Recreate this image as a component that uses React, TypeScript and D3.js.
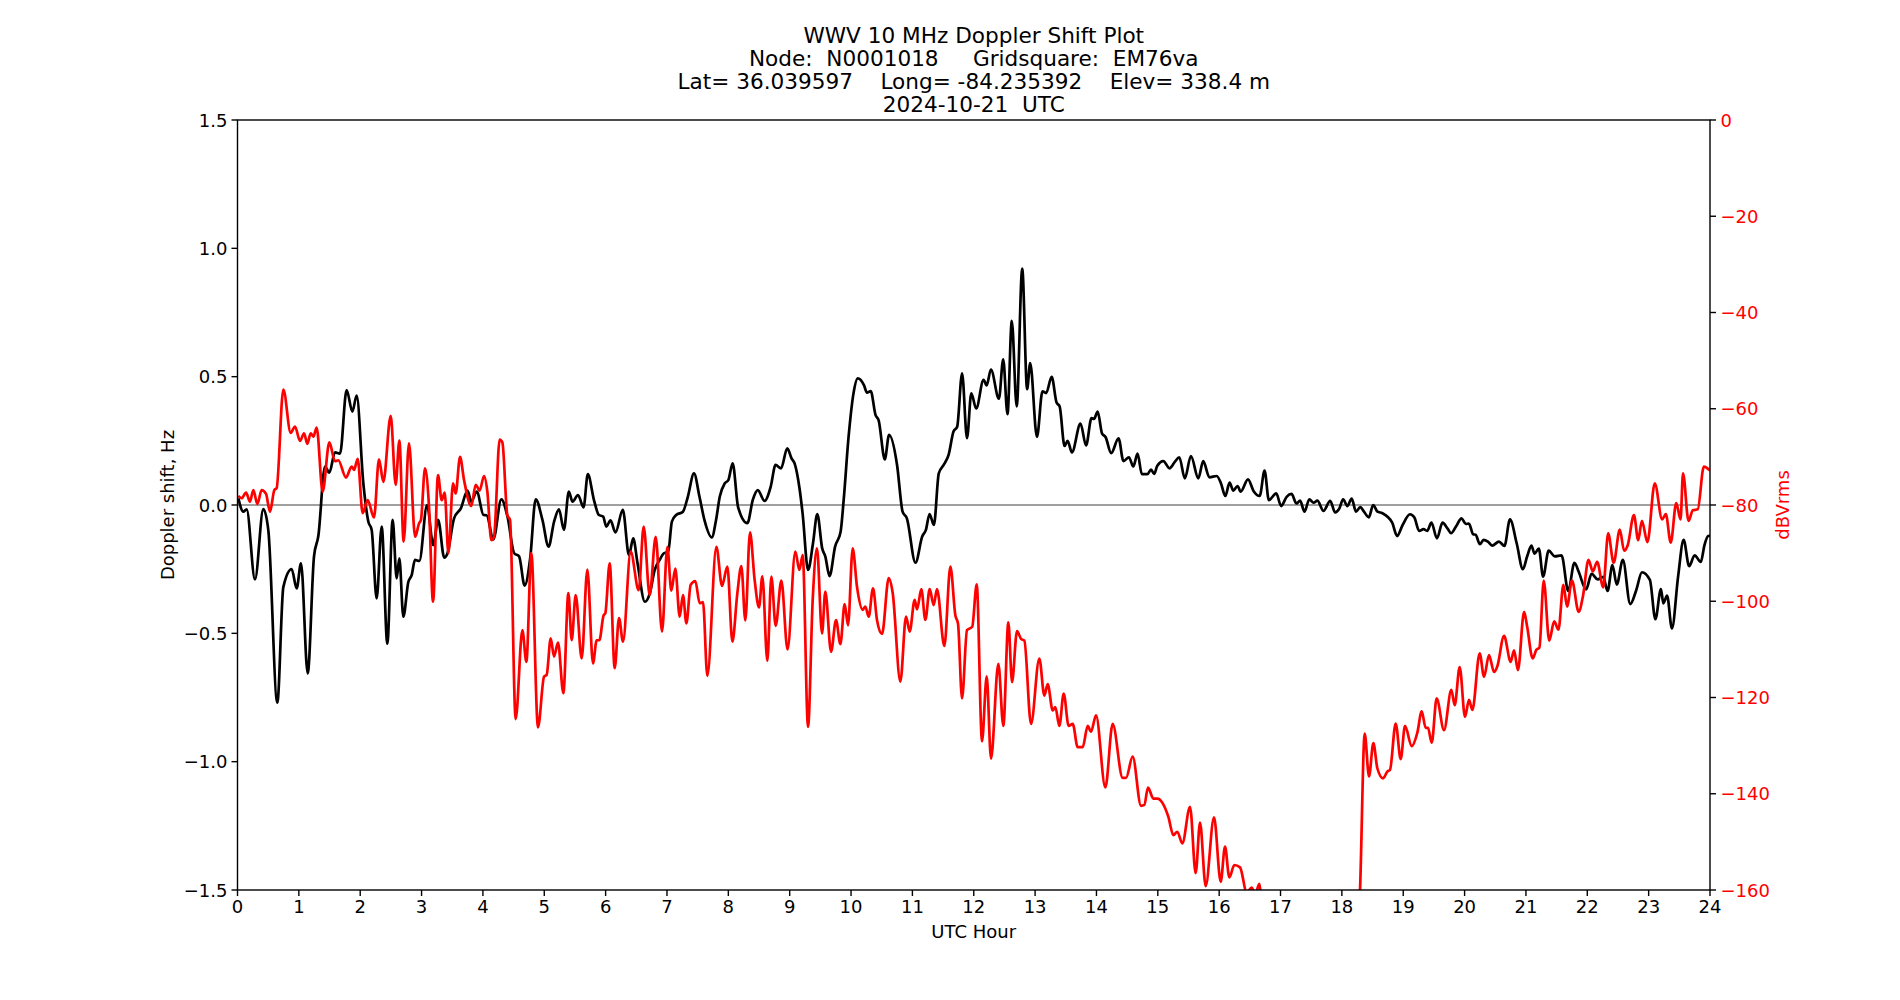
import React from "react";
import * as d3 from "d3";

// Figure text
const titleLines = [
  "WWV 10 MHz Doppler Shift Plot",
  "Node:  N0001018     Gridsquare:  EM76va",
  "Lat= 36.039597    Long= -84.235392    Elev= 338.4 m",
  "2024-10-21  UTC",
];
const xLabel = "UTC Hour";
const yLeftLabel = "Doppler shift, Hz";
const yRightLabel = "dBVrms";

// Tick values
const hourTicks = d3.range(0, 25, 1);
const dopplerTicks = [-1.5, -1.0, -0.5, 0.0, 0.5, 1.0, 1.5];
const powerTicks = [-160, -140, -120, -100, -80, -60, -40, -20, 0];

// Doppler shift (Hz) vs UTC hour
const dopplerHz: [number, number][] = [
  [0.014, 0.026], [0.095, -0.026], [0.149, -0.017], [0.285, -0.29], [0.421, -0.016],
  [0.503, -0.1], [0.649, -0.77], [0.747, -0.32], [0.883, -0.25], [0.964, -0.325],
  [1.035, -0.227], [1.144, -0.656], [1.247, -0.2], [1.318, -0.12], [1.426, 0.15],
  [1.497, 0.126], [1.589, 0.205], [1.671, 0.2], [1.779, 0.448], [1.872, 0.364],
  [1.942, 0.426], [2.051, 0.084], [2.133, -0.065], [2.187, -0.097], [2.268, -0.364],
  [2.35, -0.084], [2.442, -0.54], [2.529, -0.058], [2.594, -0.286], [2.638, -0.208],
  [2.703, -0.435], [2.784, -0.3], [2.839, -0.273], [2.893, -0.214], [2.964, -0.218],
  [3.09, 0.0], [3.19, -0.156], [3.27, -0.058], [3.37, -0.205], [3.42, -0.19],
  [3.53, -0.052], [3.64, -0.013], [3.75, 0.056], [3.81, 0.013], [3.9, 0.052],
  [4.01, -0.039], [4.06, -0.04], [4.17, -0.134], [4.3, 0.022], [4.4, -0.045],
  [4.51, -0.188], [4.59, -0.2], [4.68, -0.314], [4.77, -0.208], [4.86, 0.022],
  [4.97, -0.058], [5.07, -0.162], [5.16, -0.065], [5.24, -0.017], [5.32, -0.097],
  [5.4, 0.052], [5.46, 0.013], [5.55, 0.039], [5.64, -0.009], [5.71, 0.12],
  [5.81, 0.019], [5.89, -0.039], [5.96, -0.045], [6.01, -0.084], [6.08, -0.06],
  [6.16, -0.107], [6.28, -0.019], [6.38, -0.195], [6.45, -0.13], [6.52, -0.227],
  [6.64, -0.377], [6.72, -0.344], [6.8, -0.253], [6.88, -0.214], [6.95, -0.188],
  [7.02, -0.182], [7.08, -0.065], [7.15, -0.039], [7.26, -0.026], [7.34, 0.032],
  [7.44, 0.123], [7.53, 0.032], [7.61, -0.058], [7.73, -0.126], [7.8, -0.058],
  [7.86, 0.032], [7.94, 0.084], [8.0, 0.097], [8.07, 0.162], [8.16, -0.009],
  [8.31, -0.071], [8.4, 0.021], [8.48, 0.058], [8.59, 0.016], [8.69, 0.071],
  [8.77, 0.156], [8.86, 0.143], [8.96, 0.221], [9.03, 0.182], [9.08, 0.162],
  [9.16, 0.065], [9.21, -0.032], [9.3, -0.253], [9.38, -0.149], [9.45, -0.035],
  [9.53, -0.169], [9.58, -0.2], [9.65, -0.277], [9.74, -0.162], [9.83, -0.104],
  [9.88, 0.02], [9.96, 0.266], [10.04, 0.435], [10.11, 0.493], [10.21, 0.467],
  [10.26, 0.438], [10.32, 0.444], [10.4, 0.35], [10.45, 0.33], [10.55, 0.178],
  [10.62, 0.273], [10.75, 0.156], [10.84, -0.026], [10.91, -0.052], [11.05, -0.225],
  [11.16, -0.123], [11.22, -0.097], [11.28, -0.035], [11.35, -0.078], [11.43, 0.123],
  [11.51, 0.156], [11.59, 0.195], [11.67, 0.286], [11.73, 0.305], [11.81, 0.513],
  [11.89, 0.26], [11.96, 0.435], [12.04, 0.376], [12.16, 0.488], [12.21, 0.466],
  [12.28, 0.528], [12.41, 0.414], [12.48, 0.567], [12.55, 0.354], [12.62, 0.717],
  [12.7, 0.384], [12.79, 0.921], [12.87, 0.451], [12.92, 0.553], [13.03, 0.265],
  [13.12, 0.443], [13.18, 0.436], [13.27, 0.499], [13.35, 0.399], [13.4, 0.384],
  [13.48, 0.23], [13.53, 0.25], [13.6, 0.205], [13.74, 0.317], [13.83, 0.232],
  [13.92, 0.339], [13.96, 0.335], [14.02, 0.364], [14.09, 0.279], [14.15, 0.264],
  [14.24, 0.202], [14.36, 0.26], [14.44, 0.171], [14.53, 0.186], [14.6, 0.15],
  [14.67, 0.2], [14.74, 0.12], [14.83, 0.12], [14.89, 0.138], [14.94, 0.121],
  [14.99, 0.152], [15.09, 0.171], [15.19, 0.143], [15.28, 0.169], [15.35, 0.186],
  [15.44, 0.104], [15.54, 0.191], [15.66, 0.104], [15.74, 0.171], [15.84, 0.108],
  [15.96, 0.113], [16.03, 0.084], [16.1, 0.035], [16.17, 0.087], [16.23, 0.056],
  [16.3, 0.074], [16.35, 0.052], [16.47, 0.1], [16.56, 0.055], [16.66, 0.035],
  [16.74, 0.134], [16.81, 0.019], [16.93, 0.045], [17.01, -0.004], [17.1, 0.032],
  [17.18, 0.043], [17.26, 0.006], [17.32, 0.017], [17.39, -0.026], [17.47, 0.022],
  [17.54, 0.009], [17.6, 0.017], [17.7, -0.023], [17.81, 0.016], [17.89, -0.029],
  [17.96, -0.013], [18.02, 0.022], [18.09, -0.004], [18.16, 0.025], [18.23, -0.026],
  [18.3, -0.008], [18.36, -0.026], [18.44, -0.048], [18.51, 0.0], [18.58, -0.026],
  [18.66, -0.032], [18.82, -0.069], [18.9, -0.121], [18.99, -0.078], [19.11, -0.036],
  [19.18, -0.048], [19.26, -0.101], [19.33, -0.094], [19.39, -0.101], [19.46, -0.069],
  [19.55, -0.13], [19.64, -0.069], [19.72, -0.091], [19.78, -0.11], [19.86, -0.084],
  [19.95, -0.052], [20.02, -0.074], [20.07, -0.072], [20.14, -0.114], [20.18, -0.116],
  [20.25, -0.153], [20.31, -0.136], [20.38, -0.143], [20.45, -0.158], [20.56, -0.143],
  [20.65, -0.159], [20.74, -0.056], [20.85, -0.15], [20.95, -0.25], [21.02, -0.2],
  [21.09, -0.158], [21.14, -0.19], [21.21, -0.17], [21.28, -0.279], [21.37, -0.178],
  [21.47, -0.2], [21.58, -0.196], [21.69, -0.335], [21.79, -0.225], [21.86, -0.26],
  [21.98, -0.329], [22.07, -0.268], [22.17, -0.29], [22.26, -0.28], [22.33, -0.335],
  [22.41, -0.234], [22.48, -0.31], [22.58, -0.214], [22.7, -0.386], [22.8, -0.33],
  [22.89, -0.262], [23.02, -0.292], [23.11, -0.445], [23.2, -0.328], [23.24, -0.383],
  [23.3, -0.353], [23.38, -0.481], [23.48, -0.279], [23.57, -0.136], [23.66, -0.238],
  [23.75, -0.196], [23.85, -0.222], [23.91, -0.156], [23.97, -0.121], [24.0, -0.12],
];

// Received signal level (dBVrms) vs UTC hour
const powerDb: [number, number][] = [
  [0.014, -78.1], [0.068, -78.6], [0.139, -77.4], [0.204, -79.3], [0.258, -76.9],
  [0.323, -79.8], [0.394, -76.9], [0.465, -77.7], [0.53, -81.4], [0.6, -76.9],
  [0.638, -76.5], [0.747, -56.0], [0.867, -65.0], [0.937, -63.7], [1.019, -66.7],
  [1.084, -65.1], [1.138, -67.3], [1.193, -65.1], [1.236, -65.8], [1.29, -63.9],
  [1.388, -77.2], [1.497, -67.0], [1.589, -70.9], [1.643, -70.7], [1.768, -74.3],
  [1.861, -72.0], [1.899, -72.7], [1.959, -70.4], [2.04, -81.7], [2.122, -79.0],
  [2.225, -82.6], [2.306, -70.5], [2.377, -75.2], [2.497, -61.5], [2.578, -75.8],
  [2.638, -66.6], [2.708, -87.6], [2.795, -67.2], [2.895, -86.6], [2.96, -83.8],
  [2.99, -83.1], [3.056, -72.4], [3.121, -80.3], [3.187, -100.1], [3.268, -73.8],
  [3.328, -79.0], [3.377, -77.4], [3.437, -90.0], [3.513, -75.5], [3.556, -77.6],
  [3.627, -70.0], [3.692, -74.8], [3.811, -80.2], [3.882, -75.8], [3.947, -77.0],
  [4.018, -74.0], [4.072, -77.2], [4.137, -87.3], [4.181, -86.6], [4.273, -66.4],
  [4.317, -67.0], [4.398, -82.1], [4.442, -83.1], [4.534, -124.5], [4.643, -106.0],
  [4.708, -112.6], [4.789, -90.0], [4.898, -126.2], [4.996, -115.7], [5.039, -115.3],
  [5.105, -107.7], [5.159, -111.5], [5.224, -108.6], [5.311, -119.1], [5.393, -98.3],
  [5.447, -108.1], [5.512, -98.7], [5.61, -111.9], [5.702, -93.4], [5.794, -112.9],
  [5.854, -108.1], [5.898, -108.1], [5.965, -103.0], [5.995, -102.5], [6.066, -92.1],
  [6.148, -113.9], [6.218, -103.5], [6.283, -108.4], [6.408, -89.7], [6.539, -97.7],
  [6.62, -84.5], [6.718, -98.7], [6.816, -86.6], [6.919, -106.3], [7.006, -88.7],
  [7.071, -97.8], [7.136, -93.2], [7.207, -103.2], [7.261, -98.7], [7.316, -104.6],
  [7.386, -96.6], [7.462, -95.8], [7.533, -100.4], [7.587, -100.2], [7.658, -115.5],
  [7.805, -88.7], [7.897, -96.8], [7.984, -92.8], [8.066, -108.4], [8.147, -98.3],
  [8.212, -92.7], [8.277, -104.0], [8.353, -85.7], [8.429, -95.6], [8.5, -101.3],
  [8.554, -94.8], [8.636, -112.4], [8.701, -94.9], [8.772, -105.1], [8.864, -95.7],
  [8.965, -110.0], [9.092, -89.7], [9.158, -93.5], [9.212, -90.4], [9.299, -126.1],
  [9.375, -99.7], [9.445, -89.0], [9.527, -106.7], [9.581, -98.0], [9.674, -110.5],
  [9.755, -103.9], [9.826, -108.9], [9.896, -100.6], [9.951, -105.0], [10.027, -89.0],
  [10.097, -97.0], [10.19, -101.8], [10.233, -101.1], [10.288, -103.2], [10.358, -97.3],
  [10.423, -103.9], [10.505, -106.8], [10.614, -95.2], [10.679, -98.3], [10.804, -116.7],
  [10.896, -103.2], [10.956, -106.3], [11.037, -99.7], [11.075, -101.7], [11.146, -97.5],
  [11.211, -103.9], [11.282, -97.5], [11.347, -100.8], [11.401, -97.5], [11.521, -109.3],
  [11.619, -92.8], [11.7, -102.9], [11.744, -104.7], [11.809, -120.2], [11.89, -106.0],
  [11.975, -105.3], [12.048, -96.5], [12.135, -129.1], [12.211, -115.6], [12.281, -132.7],
  [12.401, -113.0], [12.482, -125.9], [12.564, -104.4], [12.624, -116.8], [12.705, -106.2],
  [12.77, -107.8], [12.825, -108.2], [12.933, -125.5], [13.069, -111.9], [13.151, -119.6],
  [13.205, -117.2], [13.287, -122.7], [13.33, -122.0], [13.395, -125.9], [13.466, -119.2],
  [13.547, -125.9], [13.613, -125.5], [13.694, -130.3], [13.776, -130.3], [13.857, -125.9],
  [13.911, -127.1], [13.993, -123.7], [14.145, -138.7], [14.264, -125.5], [14.427, -136.7],
  [14.482, -136.7], [14.59, -132.3], [14.726, -142.5], [14.781, -142.3], [14.84, -138.7],
  [14.927, -141.0], [14.993, -141.0], [15.08, -142.0], [15.172, -144.8], [15.253, -148.6],
  [15.318, -147.9], [15.4, -150.3], [15.525, -142.7], [15.617, -156.5], [15.688, -146.0],
  [15.78, -159.2], [15.916, -144.9], [16.025, -158.3], [16.095, -151.0], [16.166, -157.4],
  [16.247, -154.8], [16.34, -155.3], [16.449, -160.5], [16.53, -159.5], [16.584, -161.0],
  [16.655, -158.7], [16.75, -175.0], [17.5, -180.0], [18.2, -180.0], [18.296, -160.0],
  [18.372, -127.5], [18.442, -136.4], [18.513, -129.5], [18.578, -134.7], [18.671, -136.8],
  [18.741, -135.4], [18.785, -135.0], [18.877, -125.4], [18.959, -132.8], [19.029, -125.9],
  [19.138, -130.1], [19.23, -127.3], [19.301, -122.9], [19.366, -126.3], [19.404, -126.3],
  [19.464, -129.4], [19.545, -120.2], [19.665, -126.8], [19.784, -118.4], [19.839, -121.6],
  [19.92, -113.7], [20.007, -124.0], [20.072, -120.5], [20.127, -122.6], [20.246, -110.8],
  [20.317, -115.7], [20.398, -111.2], [20.48, -114.7], [20.534, -113.5], [20.643, -107.2],
  [20.752, -112.6], [20.806, -110.2], [20.87, -114.3], [20.97, -102.2], [21.02, -105.3],
  [21.11, -111.9], [21.17, -110.1], [21.22, -109.6], [21.29, -95.7], [21.38, -108.2],
  [21.46, -104.2], [21.53, -105.9], [21.61, -96.6], [21.67, -101.1], [21.75, -95.7],
  [21.86, -102.2], [21.93, -98.9], [22.02, -91.4], [22.09, -93.8], [22.16, -91.8],
  [22.26, -97.1], [22.34, -85.9], [22.43, -92.0], [22.53, -85.1], [22.6, -89.5],
  [22.66, -88.3], [22.76, -82.1], [22.83, -87.3], [22.89, -83.3], [22.98, -87.7],
  [23.1, -75.5], [23.22, -83.0], [23.28, -81.9], [23.36, -87.8], [23.45, -79.6],
  [23.52, -83.0], [23.56, -73.4], [23.65, -83.3], [23.72, -81.1], [23.8, -80.9],
  [23.9, -72.0], [23.98, -72.6], [24.0, -72.8],
];

const W = 1900;
const H = 1000;
const L = 237.5;
const R = 1710;
const T = 120;
const B = 890;
const FONT = "'DejaVu Sans', sans-serif";
const TICK_FS = 18;
const TITLE_FS = 21.6;
const TICK_LEN = 6;
const TICK_W = 1.4;
const LINE_W = 2.7;

const fmtLeft = (v: number) => d3.format(".1f")(v).replace("-", "\u2212");
const fmtRight = (v: number) => String(v).replace("-", "\u2212");

export default function App() {
  const x = d3.scaleLinear().domain([0, 24]).range([L, R]);
  const yL = d3.scaleLinear().domain([-1.5, 1.5]).range([B, T]);
  const yR = d3.scaleLinear().domain([-160, 0]).range([B, T]);

  const dopplerLine = d3
    .line<[number, number]>()
    .x((d) => x(d[0]))
    .y((d) => yL(d[1]))
    .curve(d3.curveMonotoneX);
  const powerLine = d3
    .line<[number, number]>()
    .x((d) => x(d[0]))
    .y((d) => yR(d[1]))
    .curve(d3.curveMonotoneX);

  const cx = (L + R) / 2;
  const cy = (T + B) / 2;
  const halfCap = (0.73 * TICK_FS) / 2;

  return (
    <svg
      width={W}
      height={H}
      viewBox={`0 0 ${W} ${H}`}
      style={{ position: "fixed", left: 0, top: 0, background: "#fff" }}
      fontFamily={FONT}
    >
      <rect x={0} y={0} width={W} height={H} fill="#fff" />
      <defs>
        <clipPath id="plotArea">
          <rect x={L} y={T} width={R - L} height={B - T} />
        </clipPath>
      </defs>

      {/* title */}
      {titleLines.map((t, i) => (
        <text
          key={i}
          x={cx}
          y={42.6 + i * 23.2}
          textAnchor="middle"
          fontSize={TITLE_FS}
          fill="#000"
          style={{ whiteSpace: "pre" }}
        >
          {t}
        </text>
      ))}

      {/* zero reference */}
      <line
        x1={L}
        x2={R}
        y1={yL(0)}
        y2={yL(0)}
        stroke="gray"
        strokeWidth={1.6}
        clipPath="url(#plotArea)"
      />

      {/* series */}
      <g clipPath="url(#plotArea)">
        <path
          d={dopplerLine(dopplerHz) ?? ""}
          fill="none"
          stroke="#000"
          strokeWidth={LINE_W}
          strokeLinejoin="round"
        />
        <path
          d={powerLine(powerDb) ?? ""}
          fill="none"
          stroke="#ff0000"
          strokeWidth={LINE_W}
          strokeLinejoin="round"
        />
      </g>

      {/* frame */}
      <rect x={L} y={T} width={R - L} height={B - T} fill="none" stroke="#000" strokeWidth={TICK_W} />

      {/* x axis */}
      {hourTicks.map((h) => (
        <g key={`x${h}`}>
          <line x1={x(h)} x2={x(h)} y1={B} y2={B + TICK_LEN} stroke="#000" strokeWidth={TICK_W} />
          <text x={x(h)} y={906.5 + halfCap} textAnchor="middle" fontSize={TICK_FS} fill="#000">
            {h}
          </text>
        </g>
      ))}
      <text x={cx} y={931 + halfCap} textAnchor="middle" fontSize={TICK_FS} fill="#000">
        {xLabel}
      </text>

      {/* left axis */}
      {dopplerTicks.map((v) => (
        <g key={`l${v}`}>
          <line x1={L - TICK_LEN} x2={L} y1={yL(v)} y2={yL(v)} stroke="#000" strokeWidth={TICK_W} />
          <text x={227.5} y={yL(v) + halfCap} textAnchor="end" fontSize={TICK_FS} fill="#000">
            {fmtLeft(v)}
          </text>
        </g>
      ))}
      <text
        transform={`translate(${167 + halfCap},${cy}) rotate(-90)`}
        textAnchor="middle"
        fontSize={TICK_FS}
        fill="#000"
      >
        {yLeftLabel}
      </text>

      {/* right axis */}
      {powerTicks.map((v) => (
        <g key={`r${v}`}>
          <line x1={R} x2={R + TICK_LEN} y1={yR(v)} y2={yR(v)} stroke="#000" strokeWidth={TICK_W} />
          <text x={1720.5} y={yR(v) + halfCap} textAnchor="start" fontSize={TICK_FS} fill="#ff0000">
            {fmtRight(v)}
          </text>
        </g>
      ))}
      <text
        transform={`translate(${1782.5 + halfCap},${cy}) rotate(-90)`}
        textAnchor="middle"
        fontSize={TICK_FS}
        fill="#ff0000"
      >
        {yRightLabel}
      </text>
    </svg>
  );
}
